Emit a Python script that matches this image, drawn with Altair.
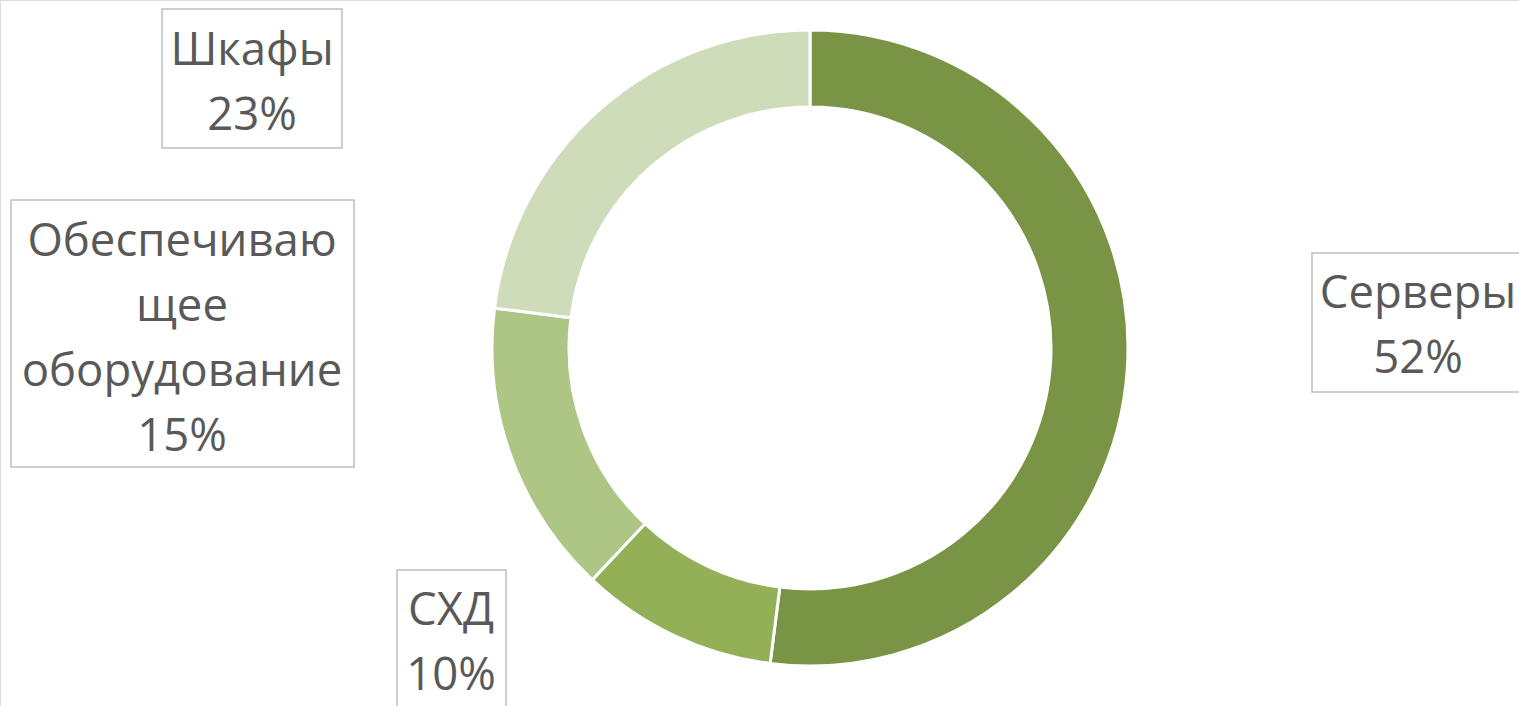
import altair as alt
import pandas as pd

# ---- data ----
categories = ["Серверы", "СХД", "Обеспечивающее оборудование", "Шкафы"]
shares = [52, 10, 15, 23]
label_names = ["Серверы", "СХД", "Обеспечиваю\nщее\nоборудование", "Шкафы"]
colors = ["#7a9445", "#94b057", "#adc686", "#cfdcb9"]

# ---- layout (label annotations, pixels) ----
label_x = [1418, 451, 182, 252]
label_y = [308, 625, 256, 65]
box_x = [1312, 397, 11, 162]
box_x2 = [1535, 506, 354, 342]
box_y = [253, 570, 200, 9]
box_y2 = [392, 720, 467, 148]

df = pd.DataFrame({
    "category": categories,
    "share": shares,
    "idx": list(range(len(categories))),
})

lab = pd.DataFrame({
    "category": categories,
    "text": [f"{n}\n{s}%" for n, s in zip(label_names, shares)],
    "lx": label_x, "ly": label_y,
    "bx": box_x, "bx2": box_x2, "by": box_y, "by2": box_y2,
})

donut = alt.Chart(df).mark_arc(
    innerRadius=241, outerRadius=318, stroke="white", strokeWidth=3
).encode(
    theta=alt.Theta("share:Q", stack=True),
    color=alt.Color("category:N", scale=alt.Scale(domain=categories, range=colors), legend=None),
    order=alt.Order("idx:Q"),
    x=alt.value(810),
    y=alt.value(348),
)

boxes = alt.Chart(lab).mark_rect(fill="white", stroke="#bfbfbf", strokeWidth=1.5).encode(
    x=alt.X("bx:Q", scale=None, axis=None),
    x2="bx2:Q",
    y=alt.Y("by:Q", scale=None, axis=None),
    y2="by2:Q",
)

texts = alt.Chart(lab).mark_text(
    font="Open Sans", fontSize=45.5, color="#595959", align="center",
    baseline="alphabetic", lineBreak="\n", lineHeight=65,
).encode(
    x=alt.X("lx:Q", scale=None, axis=None),
    y=alt.Y("ly:Q", scale=None, axis=None),
    text="text:N",
)

chart = alt.layer(donut, boxes, texts).properties(
    width=1519, height=706, autosize=alt.AutoSizeParams(type="none"), padding=0
).configure_view(stroke=None).configure(background="white")

chart.save("out.html", embed_options={"renderer": "svg", "actions": False})
